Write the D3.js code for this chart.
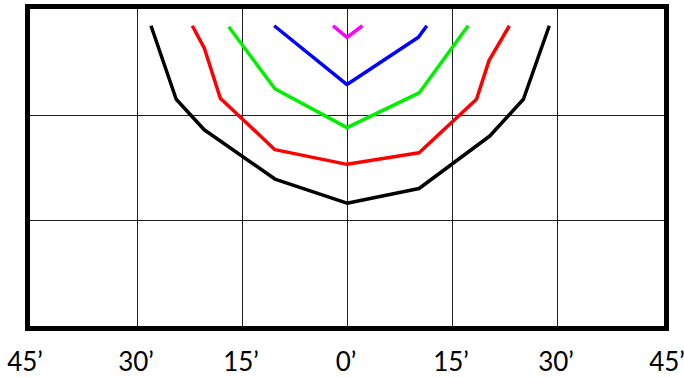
<!DOCTYPE html>
<html>
<head>
<meta charset="utf-8">
<script src="https://cdn.jsdelivr.net/npm/d3@7"></script>
<style>
  html, body { margin: 0; padding: 0; background: #fff; }
  svg { display: block; }
</style>
</head>
<body>
<div id="chart"></div>
<script>
//Data: x in minutes of arc, y in grid units
var xTicks = [-45, -30, -15, 0, 15, 30, 45];
var xGrid = [-30, -15, 0, 15, 30];
var yGrid = [1, 2];
var magentaLine = [[-2.0, 2.85], [0, 2.74], [2.2, 2.85]];
var blueLine = [[-10.4, 2.85], [0, 2.29], [10.2, 2.74], [11.4, 2.85]];
var greenLine = [[-16.9, 2.84], [-10.3, 2.25], [0, 1.88], [10.3, 2.21], [17.3, 2.85]];
var redLine = [[-22.1, 2.85], [-20.4, 2.64], [-18.1, 2.16], [-10.3, 1.67], [0, 1.53],
               [10.3, 1.64], [18.5, 2.15], [20.3, 2.52], [23.2, 2.85]];
var blackLine = [[-28.0, 2.85], [-24.4, 2.15], [-20.4, 1.86], [-10.3, 1.39], [0, 1.16],
                 [10.3, 1.30], [20.4, 1.80], [25.2, 2.15], [28.9, 2.85]];

var series = [
  {name: "black", color: "#000000", values: blackLine},
  {name: "red", color: "#ff0000", values: redLine},
  {name: "green", color: "#00f000", values: greenLine},
  {name: "blue", color: "#0000ff", values: blueLine},
  {name: "magenta", color: "#ff00ff", values: magentaLine}
];

//Sizes
var width = 684, height = 377;

var x = d3.scaleLinear().domain([-45, 45]).range([32, 662]);
var y = d3.scaleLinear().domain([0, 3]).range([325, 10]);

var svg = d3.select("#chart")
  .append("svg")
  .attr("width", width)
  .attr("height", height);

//frame sits a little outside the plot area
var fx0 = x(-45) - 4.5, fx1 = x(45) + 4.5;
var fy0 = y(3) - 3.5, fy1 = y(0) + 3.5;

//grid
svg.append("g")
  .selectAll("line")
  .data(xGrid)
  .enter()
  .append("line")
  .attr("x1", function(d){ return x(d) + 0.5; })
  .attr("x2", function(d){ return x(d) + 0.5; })
  .attr("y1", fy0)
  .attr("y2", fy1)
  .attr("stroke", "#202020")
  .attr("stroke-width", 1);

svg.append("g")
  .selectAll("line")
  .data(yGrid)
  .enter()
  .append("line")
  .attr("x1", fx0)
  .attr("x2", fx1)
  .attr("y1", function(d){ return y(d) + 0.5; })
  .attr("y2", function(d){ return y(d) + 0.5; })
  .attr("stroke", "#202020")
  .attr("stroke-width", 1);

//curves
var line = d3.line()
  .x(function(d){ return x(d[0]); })
  .y(function(d){ return y(d[1]); });

svg.append("g")
  .selectAll("path")
  .data(series)
  .enter()
  .append("path")
  .attr("d", function(d){ return line(d.values); })
  .attr("fill", "none")
  .attr("stroke", function(d){ return d.color; })
  .attr("stroke-width", 3.5)
  .attr("stroke-linejoin", "round");

//frame
svg.append("rect")
  .attr("x", fx0)
  .attr("y", fy0)
  .attr("width", fx1 - fx0)
  .attr("height", fy1 - fy0)
  .attr("fill", "none")
  .attr("stroke", "#000")
  .attr("stroke-width", 5);

//tick labels
svg.append("g")
  .selectAll("text")
  .data(xTicks)
  .enter()
  .append("text")
  .attr("x", function(d){
    if (d === -45) return x(d) - 7;
    if (d === 45) return x(d) + 5;
    return x(d) - 1;
  })
  .attr("y", 370.5)
  .attr("text-anchor", "middle")
  .attr("font-family", "Lato, 'Open Sans', sans-serif")
  .attr("font-size", 26)
  .attr("fill", "#000")
  .text(function(d){ return Math.abs(d) + "\u2019"; });
</script>
</body>
</html>
